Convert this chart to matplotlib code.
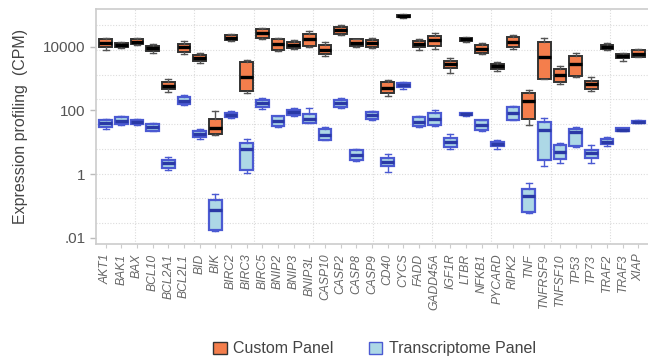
import numpy as np
import matplotlib
matplotlib.use("Agg")
import matplotlib.pyplot as plt
from matplotlib.patches import Patch

plt.rcParams['font.family'] = ['Liberation Sans', 'DejaVu Sans']

genes = ["AKT1", "BAK1", "BAX", "BCL10", "BCL2A1", "BCL2L1", "BID", "BIK",
         "BIRC2", "BIRC3", "BIRC5", "BNIP2", "BNIP3", "BNIP3L", "CASP10",
         "CASP2", "CASP8", "CASP9", "CD40", "CYCS", "FADD", "GADD45A",
         "IGF1R", "LTBR", "NFKB1", "PYCARD", "RIPK2", "TNF", "TNFRSF9",
         "TNFSF10", "TP53", "TP73", "TRAF2", "TRAF3", "XIAP"]

# Custom panel: whisker low, Q1, median, Q3, whisker high (CPM)
custom_lo = [7800, 8900, 11200, 6300, 370, 5900, 3000, 16.5, 14800, 350,
             17000, 7200, 8700, 9800, 5000, 22900, 9800, 8900, 280, 81000,
             7800, 8700, 1550, 14500, 5900, 1740, 8700, 35, 980, 660, 1120,
             410, 8100, 3550, 4700]
custom_q1 = [9500, 9500, 12000, 7400, 460, 6800, 3500, 17.5, 15800, 400,
             19000, 8100, 9300, 10500, 5900, 25700, 10200, 9800, 340, 89000,
             9800, 10500, 2140, 15500, 6500, 1950, 9800, 55, 1000, 790, 1200,
             480, 8700, 4270, 4800]
custom_med = [12900, 11200, 14100, 8900, 590, 9500, 4300, 27, 19000, 1100,
              27500, 12600, 11700, 17000, 8100, 32400, 13500, 13200, 500,
              95000, 12600, 15800, 2950, 17000, 8300, 2450, 14100, 200, 4700,
              1290, 2820, 660, 10000, 5000, 5900]
custom_q3 = [17000, 12900, 17000, 10500, 760, 12000, 5400, 55, 22900, 3200,
             36300, 17000, 14100, 24500, 11700, 40700, 17000, 16600, 780,
             102000, 15100, 21400, 3550, 18600, 11200, 2950, 20000, 355,
             14100, 2040, 5130, 850, 11700, 5750, 7800]
custom_hi = [18200, 13800, 18200, 12000, 950, 14800, 6200, 93, 24500, 3700,
             39800, 18600, 16600, 30900, 14100, 46800, 17800, 18200, 930,
             110000, 17800, 26300, 4470, 20000, 13200, 3240, 24000, 427,
             19500, 2450, 6460, 1120, 12900, 6170, 8300]

# Transcriptome panel: whisker low, Q1, median, Q3, whisker high (CPM)
trans_lo = [26, 35, 35, 22, 1.3, 148, 13, 0.0166, 59, 1.05, 110, 31, 66, 40,
            11.5, 120, 2.6, 51, 1.17, 480, 31, 32, 6.3, 69, 23, 6.3, 49,
            0.060, 1.8, 2.2, 7.1, 2.3, 7.4, 22, 39]
trans_q1 = [30, 37, 37, 23, 1.6, 158, 14.5, 0.0174, 62, 1.38, 126, 32, 71,
            41, 12, 129, 2.8, 55, 1.74, 525, 32, 35, 7.1, 71, 25, 7.6, 51,
            0.062, 2.8, 3.0, 7.4, 3.3, 8.7, 23, 41]
trans_med = [39, 47, 44, 30, 2.2, 195, 18.6, 0.072, 74, 6.0, 166, 47, 87, 55,
             17.4, 174, 4.1, 71, 2.4, 620, 44, 55, 10.2, 76, 36, 9.1, 83,
             0.20, 25, 5.0, 21, 4.7, 10.5, 25, 44]
trans_q3 = [49, 62, 49, 37, 2.8, 263, 22.4, 0.148, 85, 9.5, 209, 65, 105, 79,
            26, 219, 5.6, 89, 3.2, 725, 62, 83, 13.8, 81, 49, 10.2, 126,
            0.35, 44, 8.1, 26, 5.9, 12.9, 27, 47]
trans_hi = [55, 66, 52, 40, 3.5, 302, 26, 0.23, 93, 12.9, 240, 68, 120, 120,
            30, 240, 6.3, 98, 4.4, 780, 66, 100, 18.6, 83, 51, 11.5, 135,
            0.52, 59, 9.5, 30, 8.1, 15.1, 28, 49]

ytick_vals = [1e4, 1e2, 1, 1e-2]
ytick_labels = ["10000", "100", "1", ".01"]
series_labels = ["Custom Panel", "Transcriptome Panel"]


def make_stats(lo, q1, med, q3, hi):
    return [dict(whislo=a, q1=b, med=c, q3=d, whishi=e, fliers=[])
            for a, b, c, d, e in zip(lo, q1, med, q3, hi)]


fig = plt.figure(figsize=(6.48, 3.62), dpi=100)
ax = fig.add_axes([0.1481, 0.326, 0.852, 0.649])
ax.set_yscale('log')

pos = np.arange(len(genes))

# faint dotted background grid
grid_style = dict(color='#dcdcdc', lw=0.8, ls=(0, (1, 1.5)),
                  transform=ax.transAxes, zorder=0)
for fy in np.arange(0.089, 0.99, 0.10535):
    ax.plot([0, 1], [fy, fy], **grid_style)
for fx in np.arange(0.0707, 0.99, 0.1076):
    ax.plot([fx, fx], [0, 1], **grid_style)

orange = '#F47E4C'
lblue = '#ADD8E6'
blue_edge = '#4B5AD2'

ax.bxp(make_stats(custom_lo, custom_q1, custom_med, custom_q3, custom_hi),
       positions=pos, widths=0.82, patch_artist=True, showfliers=False,
       capwidths=0.4,
       boxprops=dict(facecolor=orange, edgecolor='#333333', lw=1.4),
       medianprops=dict(color='black', lw=2.4, solid_capstyle='butt'),
       whiskerprops=dict(color='#555555', lw=1.0),
       capprops=dict(color='#555555', lw=1.0), manage_ticks=False)

ax.bxp(make_stats(trans_lo, trans_q1, trans_med, trans_q3, trans_hi),
       positions=pos, widths=0.82, patch_artist=True, showfliers=False,
       capwidths=0.4,
       boxprops=dict(facecolor=lblue, edgecolor=blue_edge, lw=1.6),
       medianprops=dict(color='#2A39A6', lw=2.4, solid_capstyle='butt'),
       whiskerprops=dict(color=blue_edge, lw=1.0),
       capprops=dict(color=blue_edge, lw=1.0), manage_ticks=False)

ax.set_xlim(-0.62, len(genes) - 1 + 0.62)
ax.set_ylim(10 ** -2.198, 10 ** 5.184)

ax.set_yticks(ytick_vals)
ax.set_yticklabels(ytick_labels)
ax.yaxis.set_minor_locator(matplotlib.ticker.NullLocator())
ax.set_xticks(pos)
ax.set_xticklabels(genes, rotation=90, fontstyle='italic', fontsize=8.7,
                   color='#666666')
ax.tick_params(axis='y', labelsize=11, colors='#bbbbbb', labelcolor='#555555',
               length=4, width=1)
ax.tick_params(axis='x', length=3, colors='#cccccc', labelcolor='#666666',
               pad=4)

for side in ['left', 'bottom', 'top']:
    ax.spines[side].set_color('#cccccc')
    ax.spines[side].set_linewidth(1.2)
ax.spines['right'].set_visible(False)

ax.set_ylabel("Expression profiling  (CPM)", fontsize=11.5, color='#444444',
              labelpad=11)

handles = [Patch(facecolor=orange, edgecolor='#333333', lw=1.0),
           Patch(facecolor=lblue, edgecolor=blue_edge, lw=1.0)]
fig.legend(handles, series_labels, loc='center', ncol=2, frameon=False,
           bbox_to_anchor=(0.578, 0.036), fontsize=11.5, handlelength=0.85,
           handleheight=0.85, handletextpad=0.4, columnspacing=2.2,
           labelcolor='#444444')

fig.savefig("out.png", dpi=100)
